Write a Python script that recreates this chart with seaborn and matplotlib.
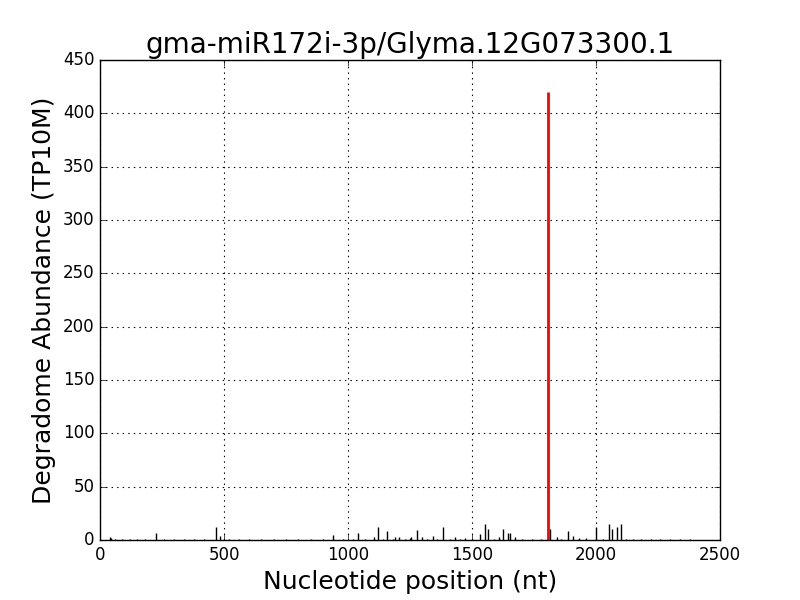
import matplotlib
matplotlib.use('Agg')
import matplotlib.pyplot as plt
import seaborn as sns

# degradome peaks (position nt, abundance TP10M)
peak_pos = [40, 45, 226, 468, 484, 940, 1040, 1105, 1119, 1157, 1190, 1205, 1250,
            1254, 1277, 1297, 1343, 1384, 1431, 1472, 1532, 1552, 1565, 1609, 1626,
            1645, 1652, 1673, 1813, 1843, 1887, 1908, 2002, 2053, 2063, 2083, 2099]
peak_val = [3, 2, 7, 12, 4, 5, 7, 3, 12, 8, 3, 3, 2,
            3, 9, 3, 4, 12, 3, 2, 6, 15, 10, 3, 10,
            7, 7, 3, 10, 3, 8, 4, 12, 15, 10, 12, 15]

# background reads
bg_pos = [60, 90, 120, 150, 180, 260, 300, 340, 380, 420, 520, 560, 600, 650, 700,
          750, 800, 850, 900, 980, 1020, 1070, 1140, 1180, 1230, 1320, 1360, 1410,
          1450, 1500, 1590, 1700, 1740, 1780, 1860, 1930, 1960, 2030, 2120, 2150,
          2180, 2220, 2260, 2300, 2340, 2380]
bg_val = [1, 1, 1, 1, 1, 1, 1, 1, 1, 1, 1, 1, 1, 1, 1,
          1, 1, 1, 1, 1, 1, 1, 1, 1, 1, 1, 1, 1,
          1, 1, 1, 1, 1, 1, 1, 2, 2, 1, 1, 1,
          1, 1, 1, 1, 1, 1]

# target site
site_pos = [1806]
site_val = [420]

sns.set_style('white')
plt.style.use('classic')

fig, ax = plt.subplots(figsize=(8, 6), dpi=100)
fig.patch.set_facecolor('white')

ax.vlines(bg_pos, 0, bg_val, colors='black', linewidth=1)
ax.vlines(peak_pos, 0, peak_val, colors='black', linewidth=1)
ax.vlines(site_pos, 0, site_val, colors='red', linewidth=2)

ax.set_xlim(0, 2500)
ax.set_ylim(0, 450)
ax.grid(True, color='black', linestyle=':', linewidth=0.8)
ax.set_axisbelow(True)

ax.set_title('gma-miR172i-3p/Glyma.12G073300.1', fontsize=20)
ax.set_xlabel('Nucleotide position (nt)', fontsize=18)
ax.set_ylabel('Degradome Abundance (TP10M)', fontsize=18)

fig.savefig('out.png', dpi=100, facecolor='white')
